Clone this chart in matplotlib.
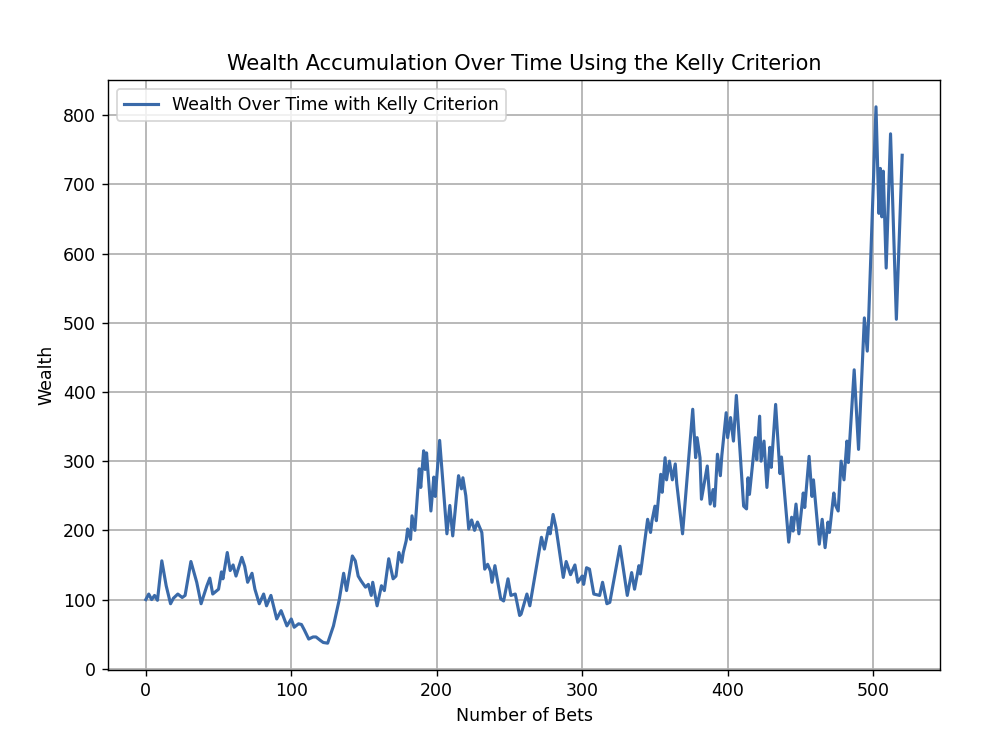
import numpy as np
import matplotlib.pyplot as plt

# bet number / wealth
bets = [0, 2, 4, 6, 8, 11, 14, 17, 19, 22, 25, 27, 31, 35, 38, 42, 44, 46, 50, 52, 53,
        56, 58, 60, 62, 66, 68, 70, 73, 75, 78, 81, 83, 86, 90, 93, 97, 100, 102, 105,
        107, 109, 112, 115, 117, 120, 122, 125, 129, 133, 136, 138, 142, 144, 146, 148,
        151, 153, 155, 156, 159, 162, 164, 167, 170, 172, 174, 176, 177, 179, 180, 182,
        183, 185, 188, 189, 191, 192, 193, 196, 198, 199, 202, 207, 209, 211, 215, 217,
        218, 220, 222, 224, 226, 228, 231, 233, 235, 237, 238, 240, 244, 246, 249, 251,
        254, 257, 258, 262, 264, 272, 274, 277, 278, 280, 282, 287, 289, 292, 295, 297,
        300, 301, 303, 305, 308, 312, 314, 317, 319, 326, 331, 334, 336, 339, 340, 341,
        345, 347, 348, 350, 351, 354, 355, 357, 358, 360, 362, 364, 365, 369, 376, 378,
        379, 381, 382, 384, 386, 388, 390, 391, 393, 395, 396, 399, 400, 402, 404, 406,
        411, 413, 414, 415, 419, 420, 422, 423, 425, 427, 429, 430, 433, 436, 437, 442,
        444, 445, 447, 449, 452, 453, 456, 458, 459, 463, 465, 467, 469, 470, 473, 474,
        476, 478, 480, 482, 483, 487, 490, 494, 496, 497, 502, 504, 505, 506, 507, 508,
        509, 512, 516, 520]
wealth = [100, 108, 100, 106, 99, 156, 120, 94, 102, 108, 103, 106, 155, 125, 94, 120,
          131, 108, 115, 140, 130, 168, 142, 150, 134, 161, 148, 125, 138, 115, 94, 108,
          91, 106, 72, 84, 62, 72, 60, 65, 64, 56, 43, 46, 46, 41, 38, 37, 62, 100, 138,
          113, 163, 156, 134, 127, 118, 122, 106, 125, 91, 120, 113, 159, 130, 134, 168,
          154, 168, 185, 202, 187, 221, 200, 289, 262, 315, 288, 312, 228, 277, 249, 330,
          195, 236, 192, 279, 260, 276, 250, 202, 215, 200, 212, 197, 144, 151, 141, 125,
          149, 101, 98, 130, 106, 108, 77, 79, 108, 91, 190, 173, 204, 195, 223, 204, 132,
          155, 136, 150, 125, 134, 122, 146, 144, 108, 106, 125, 94, 96, 177, 106, 139,
          115, 149, 137, 152, 216, 197, 214, 235, 214, 281, 255, 305, 273, 300, 273, 296,
          268, 195, 375, 305, 334, 305, 245, 269, 293, 238, 259, 235, 310, 279, 308, 370,
          334, 363, 329, 395, 235, 231, 276, 252, 334, 302, 365, 300, 329, 262, 320, 291,
          382, 282, 306, 183, 219, 199, 238, 195, 254, 233, 307, 249, 273, 180, 216, 175,
          212, 197, 254, 237, 228, 300, 273, 329, 298, 432, 317, 507, 459, 509, 812, 658,
          723, 653, 719, 651, 579, 773, 505, 742]

plt.rcParams['font.family'] = 'DejaVu Sans'
fig = plt.figure(figsize=(1001/125, 742/125), dpi=125)
ax = fig.add_axes([108/1001, 72/742, 832/1001, 590/742])
ax.plot(bets, wealth, color='#3a6aa9', lw=1.8, label='Wealth Over Time with Kelly Criterion')
ax.set_title('Wealth Accumulation Over Time Using the Kelly Criterion', fontsize=12)
ax.set_xlabel('Number of Bets')
ax.set_ylabel('Wealth')
ax.grid(True, color='#b0b0b0', lw=1.0)
ax.legend(loc='upper left')
fig.savefig('out.png', dpi=125)
